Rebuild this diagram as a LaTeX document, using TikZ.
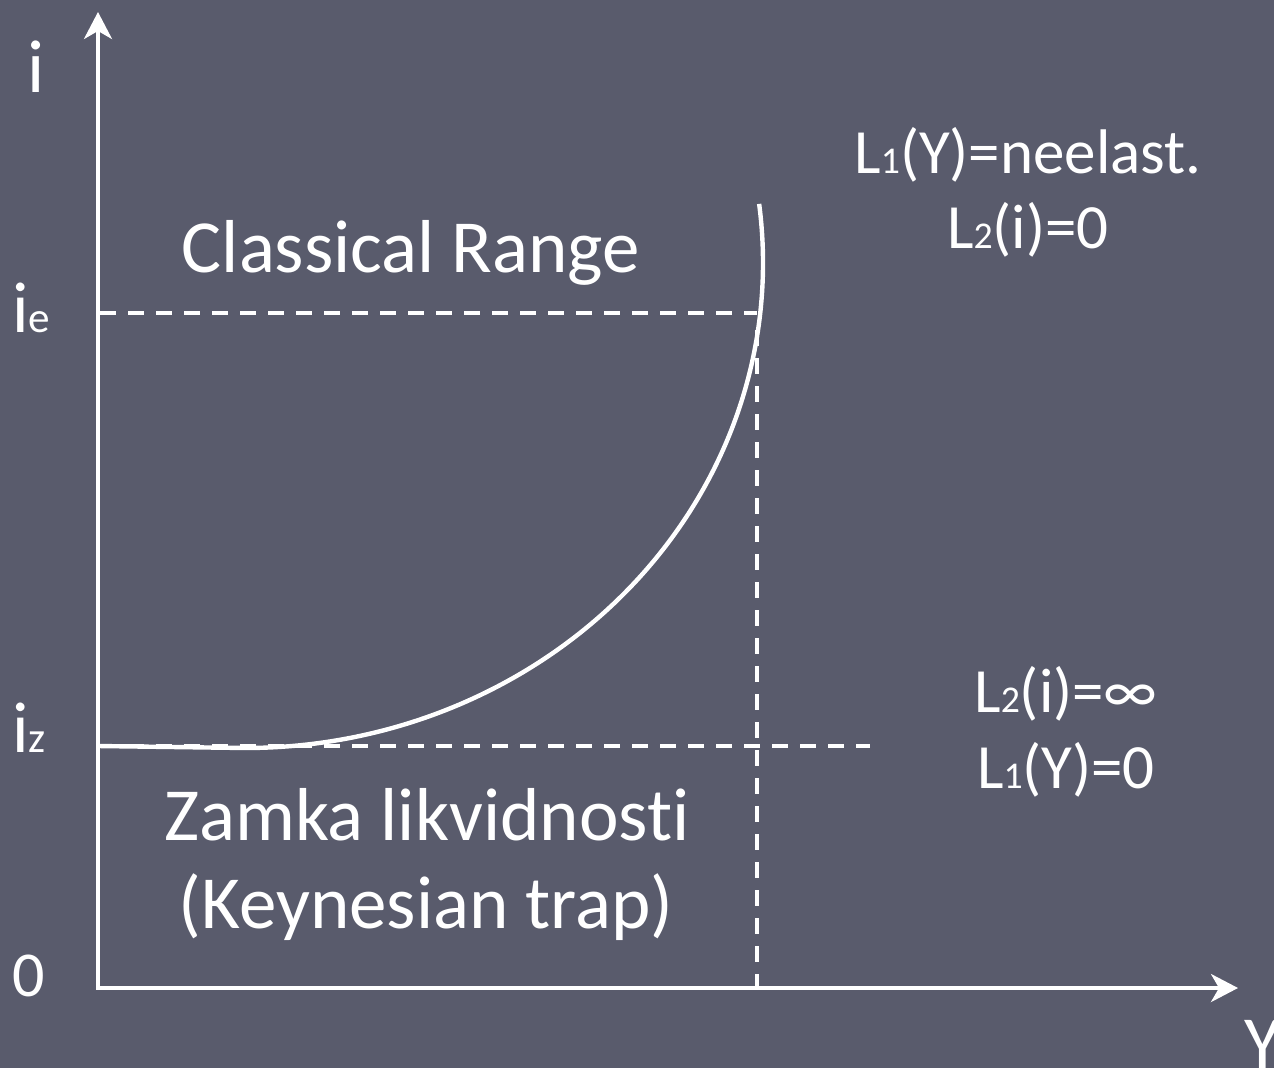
\documentclass[tikz,border=0pt]{standalone}
\usepackage{fontspec}
\usepackage{graphicx}
\setmainfont{Carlito}[Ligatures=NoCommon]
\usetikzlibrary{arrows.meta}
\definecolor{bg}{RGB}{89,91,108}
\newcommand{\lsub}[1]{\scalebox{0.6}{#1}}
\tikzset{
  lbl/.style={text=white, inner sep=0pt, anchor=base},
  big/.style={font=\fontsize{75}{80}\selectfont},
  mid/.style={font=\fontsize{63}{68}\selectfont},
  axis/.style={white, line width=3.6pt, -{Stealth[length=27pt, width=28pt, inset=8pt]}},
  guide/.style={white, line width=3.6pt, dash pattern=on 16pt off 12pt},
  curve/.style={white, line width=4.4pt}
}
\begin{document}
\begin{tikzpicture}[x=1pt, y=-1pt]
\fill[bg] (0,0) rectangle (1274,1068);
\useasboundingbox (0,0) rectangle (1274,1068);
% coordinates
\coordinate (O) at (98,988);
\coordinate (ytop) at (98,12);
\coordinate (xend) at (1238,988);
\coordinate (ieL) at (100,313);
\coordinate (ieR) at (757,313);
\coordinate (vT) at (757,330);
\coordinate (vB) at (757,988);
\coordinate (izL) at (100,746);
\coordinate (izR) at (870,746);
\coordinate (cS) at (98,746);
\coordinate (cB) at (245,748);
% dashed guides
\draw[guide] (ieL) -- (ieR);
\draw[guide] (vT) -- (vB);
\draw[guide] (izL) -- (izR);
% curve
\draw[curve] (cS) -- (cB) arc[start angle=90, end angle=-7, x radius=518, y radius=485];
% axes
\draw[axis] (O) -- (ytop);
\draw[axis, shorten <=-1.8pt] (O) -- (xend);
% labels
\node[lbl, big] (li) at (36,92) {i};
\node[lbl, anchor=base west, font=\fontsize{72}{76}\selectfont] (lie) at (12,332) {i\lsub{e}};
\node[lbl, anchor=base west, font=\fontsize{72}{76}\selectfont] (liz) at (12,752) {i\lsub{z}};
\node[lbl, anchor=base west, font=\fontsize{64}{68}\selectfont] (l0) at (12,996) {0};
\node[lbl, anchor=base west, big] (lY) at (1244,1068) {Y};
\node[lbl, big] (cr) at (411,272) {Classical Range};
\node[lbl, big] (zl) at (427,840) {Zamka likvidnosti};
\node[lbl, big] (kt) at (426,928) {(Keynesian trap)};
\node[lbl, mid] (r1) at (1028,173) {L\lsub{1}(Y)=neelast.};
\node[lbl, mid] (r2) at (1028,248) {L\lsub{2}(i)=0};
\node[lbl, mid] (r3) at (1066,712) {L\lsub{2}(i)=∞};
\node[lbl, mid] (r4) at (1066,788) {L\lsub{1}(Y)=0};
\end{tikzpicture}
\end{document}
